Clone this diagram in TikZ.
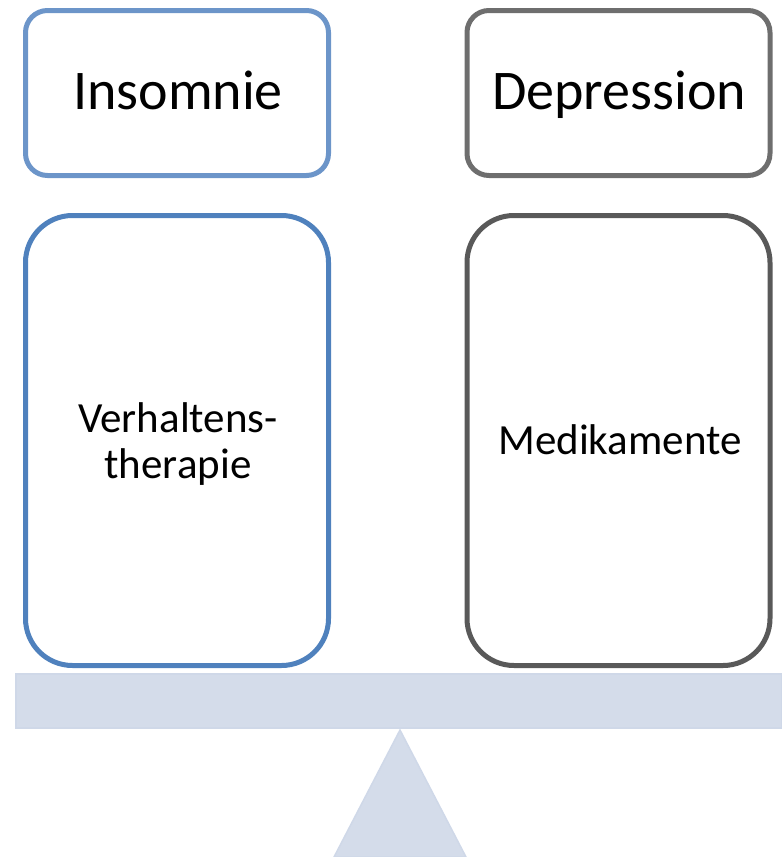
\documentclass[tikz,border=0pt]{standalone}
\usepackage{fontspec}
\setmainfont{Carlito}
\definecolor{blueA}{HTML}{6C95C9}
\definecolor{blueB}{HTML}{4F81BD}
\definecolor{grayA}{HTML}{6E6E6E}
\definecolor{grayB}{HTML}{595959}
\definecolor{scalefill}{HTML}{D4DCEA}
\definecolor{scaleedge}{HTML}{CFD8E8}
\tikzset{
  topbox/.style={draw, line width=5pt, rounded corners=22pt, minimum width=303pt, minimum height=165pt, inner sep=0pt},
  lowbox/.style={draw, line width=5pt, rounded corners=47pt, minimum width=303pt, minimum height=450pt, inner sep=0pt},
  bigtext/.style={anchor=base, inner sep=0pt, font=\fontsize{56}{62}\selectfont},
  smalltext/.style={anchor=base, inner sep=0pt, align=center, font=\fontsize{43}{46}\selectfont},
  scalepart/.style={fill=scalefill, draw=scaleedge, line width=1.5pt}
}
\begin{document}
\begin{tikzpicture}[x=1pt,y=-1pt]
\useasboundingbox (0,0) rectangle (782,857);
\node[topbox, draw=blueA] (ins) at (177,93) {};
\node[topbox, draw=grayA] (dep) at (618.5,93) {};
\node[lowbox, draw=blueB] (vt) at (177,440.5) {};
\node[lowbox, draw=grayB] (med) at (618.5,440.5) {};
\node[bigtext] (insT) at (178,109) {Insomnie};
\node[bigtext] (depT) at (619,109) {Depression};
\node[smalltext] (vtT) at (178,432) {Verhaltens-};
\node[smalltext] (vtT2) at (178,478) {therapie};
\node[smalltext] (medT) at (620,454) {Medikamente};
\draw[scalepart] (15.75,673.75) rectangle (782,728);
\draw[scalepart] (400,730) -- (466,857) -- (334,857) -- cycle;
\end{tikzpicture}
\end{document}
